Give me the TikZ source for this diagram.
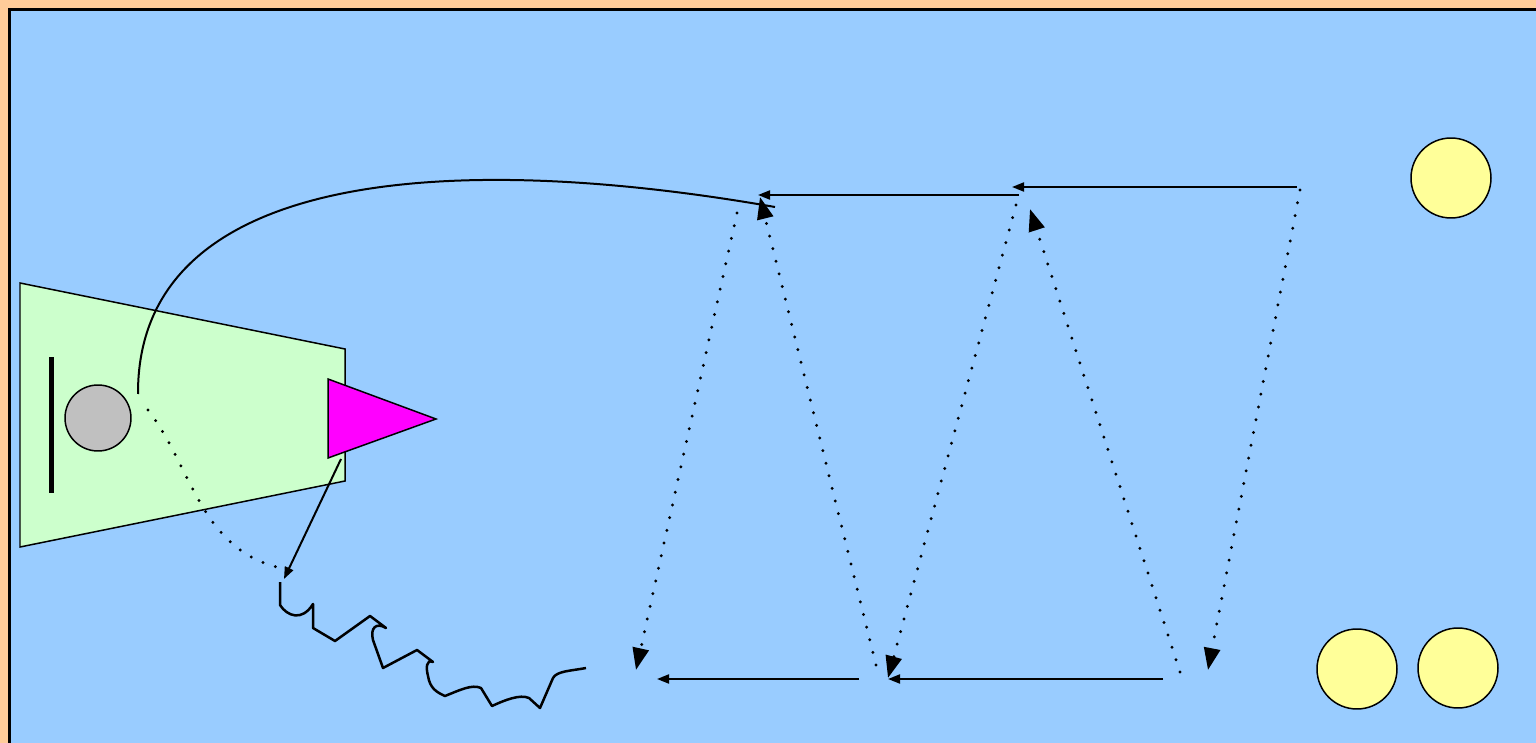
\documentclass[tikz,border=0pt]{standalone}
\usetikzlibrary{arrows.meta}
\definecolor{bgorange}{HTML}{FFCC99}
\definecolor{bgblue}{HTML}{99CCFF}
\definecolor{trapgreen}{HTML}{CCFFCC}
\definecolor{ballyellow}{HTML}{FFFF99}
\definecolor{ballgray}{HTML}{C0C0C0}
\definecolor{magentafill}{HTML}{FF00FF}
\tikzset{
  outline/.style={draw=black, line width=0.03cm},
  ball/.style={circle, outline, fill=ballyellow, minimum size=1.6cm, inner sep=0pt},
  conn/.style={line width=0.04cm, -{Triangle[length=0.24cm,width=0.18cm]}},
  dotconn/.style={line width=0.065cm, line cap=round, dash pattern=on 0pt off 0.26cm,
     -{Triangle[length=0.44cm,width=0.32cm]}},
  dotline/.style={line width=0.065cm, line cap=round, dash pattern=on 0pt off 0.26cm},
  wave/.style={line width=0.05cm, line join=round}
}
\begin{document}
\begin{tikzpicture}[x=0.02cm,y=-0.02cm]
\useasboundingbox (0,0) rectangle (1536,743);
\clip (0,0) rectangle (1536,743);
\fill[bgorange] (0,0) rectangle (1536,743);
\draw[fill=bgblue, line width=0.06cm] (9.5,9.5) rectangle (1560,770);

% left apparatus
\draw[outline, fill=trapgreen] (20,283) -- (345,349) -- (345,481) -- (20,547) -- cycle;
\fill[black] (48.5,357) rectangle (54,493);
\node[circle, outline, fill=ballgray, minimum size=1.32cm, inner sep=0pt] (gray) at (98,418) {};
\draw[outline, fill=magentafill] (328,379) -- (436,419) -- (328,458) -- cycle;

% yellow balls
\node[ball] (y1) at (1451,178) {};
\node[ball] (y2) at (1357,669) {};
\node[ball] (y3) at (1458,668) {};

% coordinates
\coordinate (cs) at (138,394);
\coordinate (ce) at (775,207);
\coordinate (ds) at (148,410);
\coordinate (de) at (298,571);
\coordinate (ts) at (341,459);
\coordinate (te) at (284,579);
\coordinate (a1s) at (737,213);  \coordinate (a1e) at (636,670);
\coordinate (a2s) at (876,665);  \coordinate (a2e) at (760,197);
\coordinate (a3s) at (1016,205); \coordinate (a3e) at (888,678);
\coordinate (a4s) at (1180,672); \coordinate (a4e) at (1030,209);
\coordinate (a5s) at (1300,190); \coordinate (a5e) at (1208,670);
\coordinate (s1s) at (1297,187); \coordinate (s1e) at (1012,187);
\coordinate (s2s) at (1019,195); \coordinate (s2e) at (758,195);
\coordinate (s3s) at (859,679);  \coordinate (s3e) at (657,679);
\coordinate (s4s) at (1163,679); \coordinate (s4e) at (888,679);

% long curve
\draw[line width=0.04cm] (cs) .. controls (137,170) and (450,150) .. (ce);
% dotted curve
\draw[dotline] (ds) .. controls (195,470) and (200,560) .. (de);
% arrow from triangle
\draw[conn] (ts) -- (te);

% wavy line
\draw[wave] (280,582) -- (280,605) .. controls (287,616) and (302,622) .. (313,604)
  -- (313,628) -- (335,641) -- (370,616) -- (386,628)
  .. controls (376,622) and (370,628) .. (373,640) -- (383,668) -- (417,650) -- (433,662)
  .. controls (426,659) and (426,668) .. (428,676) .. controls (430,688) and (436,692) .. (445,696)
  .. controls (460,690) and (472,684) .. (481,688) -- (492,706)
  .. controls (505,700) and (520,694) .. (529,698) -- (540,708) -- (553,678)
  .. controls (557,671) and (570,671) .. (586,668);

% dotted arrows
\draw[dotconn] (a1s) -- (a1e);
\draw[dotconn] (a2s) -- (a2e);
\draw[dotconn] (a3s) -- (a3e);
\draw[dotconn] (a4s) -- (a4e);
\draw[dotconn] (a5s) -- (a5e);

% solid arrows
\draw[conn] (s1s) -- (s1e);
\draw[conn] (s2s) -- (s2e);
\draw[conn] (s3s) -- (s3e);
\draw[conn] (s4s) -- (s4e);
\end{tikzpicture}
\end{document}
